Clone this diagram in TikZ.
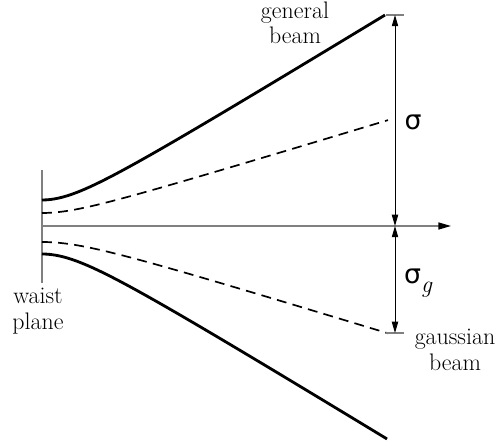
\documentclass[tikz,border=0pt]{standalone}
\usepackage{fontspec}
\newfontfamily\greekfont{DejaVu Sans}
\usetikzlibrary{arrows.meta, positioning}

\begin{document}
\begin{tikzpicture}[
  x=0.025cm, y=-0.025cm,
  font=\fontsize{17}{18}\selectfont,
  beam/.style={line width=2pt},
  gbeam/.style={line width=1.2pt, dash pattern=on 7pt off 4.5pt},
  guide/.style={gray, line width=1pt},
  tick/.style={gray, line width=0.8pt},
  tip/.style={-{Triangle[length=9pt, width=5pt, color=black]}},
  dim/.style={{Triangle[length=8pt, width=4.5pt]}-{Triangle[length=8pt, width=4.5pt]},
              line width=0.6pt},
  lbl/.style={align=center, inner sep=0pt},
  sig/.style={font=\fontsize{19}{20}\greekfont, inner sep=0pt}
]
\useasboundingbox (0,0) rectangle (496,444);

\coordinate (wtop) at (42,170);
\coordinate (wbot) at (42,283);
\coordinate (orig) at (42,226);
\coordinate (axend) at (451,226);
\coordinate (dtop) at (395,15);
\coordinate (dmid) at (395,226);
\coordinate (dbot) at (395,333);

% waist plane and axis
\draw[guide] (wtop) -- (wbot);
\draw[guide, tip] (orig) -- (axend);

% beams
\draw[beam] plot[domain=0:343, samples=80]
  ({42+\x}, {226-100*sqrt(0.0676+(0.0061*\x)^2)});
\draw[beam] plot[domain=0:345, samples=80]
  ({42+\x}, {226+100*sqrt(0.0784+(0.00612*\x)^2)});
\draw[gbeam] plot[domain=0:346, samples=80]
  ({42+\x}, {226-100*sqrt(0.0169+(0.00304*\x)^2)});
\draw[gbeam] plot[domain=0:346, samples=80]
  ({42+\x}, {226+100*sqrt(0.0256+(0.00306*\x)^2)});

% dimensions
\draw[tick] (386,15) -- (404,15);
\draw[tick] (386,333) -- (404,333);
\draw[tick] (388,226) -- (402,226);
\draw[dim] (dtop) -- (dmid);
\draw[dim] (dmid) -- (dbot);

\node[sig] (sigma) at (413,122) {σ};
\node[sig] (sigmag) at (418,283)
  {σ\raisebox{-6pt}{\fontsize{17}{18}\normalfont\itshape g}};

\node[lbl] (gen) at (295,23) {general\\beam};
\node[lbl] (gauss) at (455,350) {gaussian\\beam};
\node[lbl] (waist) at (38,311) {waist\\plane};

\end{tikzpicture}
\end{document}
